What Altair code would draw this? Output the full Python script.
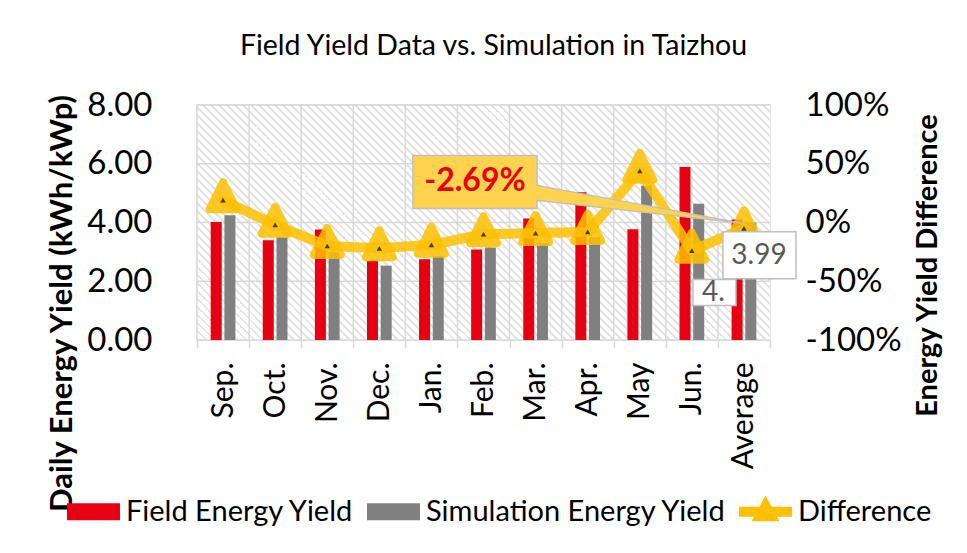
import altair as alt
import pandas as pd

# ---------------- data ----------------
months = ["Sep.", "Oct.", "Nov.", "Dec.", "Jan.", "Feb.", "Mar.", "Apr.", "May", "Jun.", "Average"]
field_yield = [4.02, 3.40, 3.76, 2.70, 2.75, 3.08, 4.14, 5.03, 3.77, 5.89, 4.10]
sim_yield = [4.25, 3.50, 3.00, 2.53, 2.85, 3.15, 3.30, 3.50, 5.25, 4.64, 3.99]
difference = [0.19, -0.02, -0.20, -0.22, -0.19, -0.10, -0.09, -0.08, 0.44, -0.24, -0.05]
series_names = ["Field Energy Yield", "Simulation Energy Yield", "Difference"]
left_ticks = [0, 2, 4, 6, 8]
right_ticks = [-1, -0.5, 0, 0.5, 1]
chart_title = "Field Yield Data vs. Simulation in Taizhou"
left_title = "Daily Energy Yield (kWh/kWp)"
right_title = "Energy Yield Difference"
callout_text = "-2.69%"
avg_sim_label = "3.99"
avg_field_label = "4."

# ---------------- styles ----------------
W, H = 573, 235
RED = "#E60012"
GRAY = "#808080"
GOLD = "#FFC000"
GRID = "#D9D9D9"
HATCH = "#E4E4E4"
FONT = "Lato"

bar_df = pd.DataFrame({
    "month": months * 2,
    "series": [series_names[0]] * len(months) + [series_names[1]] * len(months),
    "val": field_yield + sim_yield,
})
line_df = pd.DataFrame({"month": months, "diff": difference})
avg_df = pd.DataFrame({"month": [months[-1]], "field": [field_yield[-1]], "sim": [sim_yield[-1]]})
grid_df = pd.DataFrame({"val": left_ticks})
month_df = pd.DataFrame({"month": months})
legend_df = pd.DataFrame({"series": series_names})

# hatch pattern as striped gradient
PERIOD = 8.0
span = W + H
stops = []
k = 0
while k * PERIOD / span < 1:
    t0 = k * PERIOD / span
    t1 = min((k * PERIOD + 2.2) / span, 1)
    t2 = min((k + 1) * PERIOD / span, 1)
    stops += [alt.GradientStop(offset=t0, color=HATCH), alt.GradientStop(offset=t1, color=HATCH),
              alt.GradientStop(offset=t1, color="white"), alt.GradientStop(offset=t2, color="white")]
    k += 1
s = span / (W * W + H * H)
grad = alt.LinearGradient(gradient="linear", stops=stops, x1=0, y1=1, x2=s * W, y2=1 - s * H)

x_axis = alt.Axis(title=None, labelAngle=270, labelFont=FONT, labelFontSize=30, labelColor="black",
                  labelPadding=14, tickBand="extent", ticks=True, tickSize=8, tickColor=GRID,
                  tickWidth=1.5, domain=False, grid=False)
left_axis = alt.Axis(values=left_ticks, format=".2f", title=left_title, titleFont=FONT, titleFontSize=31,
                     titleFontWeight="bold", titleColor="black", titleAngle=270, titleX=-135, titleY=198,
                     titleBaseline="middle", titleAlign="center", labelFont=FONT, labelFontSize=33,
                     labelColor="black", labelPadding=45, ticks=False, tickSize=0, domain=False, grid=False)
right_axis = alt.Axis(orient="right", values=right_ticks,
                      labelExpr="replace(format(datum.value, '.0%'), '\u2212', '-')",
                      title=right_title, titleFont=FONT, titleFontSize=29, titleFontWeight="bold",
                      titleColor="black", titleAngle=270, titleX=157, titleY=160, titleBaseline="middle",
                      titleAlign="center", labelFont=FONT, labelFontSize=33, labelColor="black",
                      labelPadding=35, ticks=False, tickSize=0, domain=False, grid=False)


def X(**kw):
    return alt.X("month:N", sort=months, scale=alt.Scale(paddingInner=0, paddingOuter=0),
                 axis=x_axis, **kw)


def YL(field="val"):
    return alt.Y(f"{field}:Q", scale=alt.Scale(domain=[0, 8]), axis=left_axis)


def YR():
    return alt.Y("diff:Q", scale=alt.Scale(domain=[-1, 1]), axis=right_axis)


def Y3(field):
    return alt.Y(f"{field}:Q", scale=alt.Scale(domain=[0, 8]), axis=None)


# ---------------- group 1: left axis ----------------
bg = alt.Chart(pd.DataFrame({"a": [0]})).mark_rect(fill=grad).encode(
    x=alt.value(0), x2=alt.value("width"), y=alt.value(0), y2=alt.value("height"))

hgrid = alt.Chart(grid_df).mark_rule(color=GRID, strokeWidth=1.5).encode(y=YL())

vgrid = alt.Chart(month_df).mark_rule(color=GRID, strokeWidth=1.5).encode(x=X(bandPosition=0))

bars = alt.Chart(bar_df).mark_bar().encode(
    x=X(),
    xOffset=alt.XOffset("series:N", sort=series_names[:2],
                        scale=alt.Scale(domain=series_names[:2], paddingInner=0.197, paddingOuter=1)),
    y=YL(),
    color=alt.Color("series:N", scale=alt.Scale(domain=series_names[:2], range=[RED, GRAY]), legend=None),
)
g1 = alt.layer(bg, hgrid, vgrid, bars)

# ---------------- group 2: right axis ----------------
line = alt.Chart(line_df).mark_line(color=GOLD, strokeWidth=10, opacity=0.85, strokeJoin="round",
                                    strokeCap="round").encode(x=X(), y=YR())
big_tri = alt.Chart(line_df).mark_point(shape="M0,-1.2L0.9,0.6H-0.9Z", size=900, filled=True, fill=GOLD,
                                        stroke=GOLD, strokeWidth=8, strokeJoin="round",
                                        opacity=0.85).encode(x=X(), y=YR())
small_tri = alt.Chart(line_df).mark_point(shape="triangle-up", size=30, filled=True, color="#404040",
                                          opacity=1).encode(x=X(), y=YR())
callout = alt.Chart(line_df).transform_filter(alt.datum.month == months[-1]).mark_point(
    shape="M-331,-73H-207V-43L-1,-5L-207,-28V-20H-331Z", size=4, filled=True, fill="#FFD34D",
    stroke="#BFBFBF", strokeWidth=1.5, opacity=1).encode(x=X(), y=YR())
callout_txt = alt.Chart(line_df).transform_filter(alt.datum.month == months[-1]).mark_text(
    text=callout_text, dx=-269, dy=-47, font=FONT, fontWeight="bold", fontSize=32, color=RED,
    align="center", baseline="middle").encode(x=X(), y=YR())
g2 = alt.layer(line, big_tri, small_tri, callout, callout_txt)

# ---------------- group 3: data labels + legend ----------------
box4 = alt.Chart(avg_df).mark_point(shape="M-51,60H-8V86H-51Z", size=4, filled=True, fill="white",
                                    stroke="#BFBFBF", strokeWidth=1.5, opacity=1).encode(x=X(), y=Y3("field"))
txt4 = alt.Chart(avg_df).mark_text(text=avg_field_label, dx=-42, dy=73, font=FONT, fontSize=28,
                                   color="#595959", align="left", baseline="middle").encode(x=X(), y=Y3("field"))
box399 = alt.Chart(avg_df).mark_point(shape="M-21,9H52V56H-21Z", size=4, filled=True, fill="white",
                                      stroke="#BFBFBF", strokeWidth=1.5, opacity=1).encode(x=X(), y=Y3("sim"))
txt399 = alt.Chart(avg_df).mark_text(text=avg_sim_label, dx=15, dy=33, font=FONT, fontSize=28,
                                     color="#595959", align="center", baseline="middle").encode(x=X(), y=Y3("sim"))

RECT_PATH = "M-1,-0.32H1V0.32H-1Z"
DIFF_PATH = "M-1,-0.19H1V0.19H-1Z M0,-0.62L0.52,0.36H-0.52Z"
leg = alt.Legend(orient="none", legendX=-130, legendY=380, direction="horizontal", title=None,
                 labelFont=FONT, labelFontSize=29, labelColor="black", labelLimit=500,
                 symbolSize=2809, symbolStrokeWidth=0, symbolOpacity=1, labelOffset=6, columnPadding=12)
legend_layer = alt.Chart(legend_df).transform_filter("false").mark_point(filled=True, opacity=1).encode(
    color=alt.Color("series:N", scale=alt.Scale(domain=series_names, range=[RED, GRAY, GOLD]), legend=leg),
    shape=alt.Shape("series:N", scale=alt.Scale(domain=series_names, range=[RECT_PATH, RECT_PATH, DIFF_PATH]),
                    legend=leg),
)
g3 = alt.layer(box4, txt4, box399, txt399, legend_layer)

chart = alt.layer(g1, g2, g3).resolve_scale(
    y="independent", color="independent", shape="independent"
).properties(
    width=W, height=H,
    title=alt.TitleParams(text=chart_title, font=FONT, fontSize=28.5, fontWeight="normal", color="black",
                          anchor="middle", dx=10, dy=-25),
    padding={"left": 189, "top": 97, "right": 188, "bottom": 204},
    autosize=alt.AutoSizeParams(type="none"),
).configure(font=FONT, background="white").configure_view(stroke=GRID, strokeWidth=1.5)

chart.save("out.html", embed_options={"renderer": "svg", "actions": False})
